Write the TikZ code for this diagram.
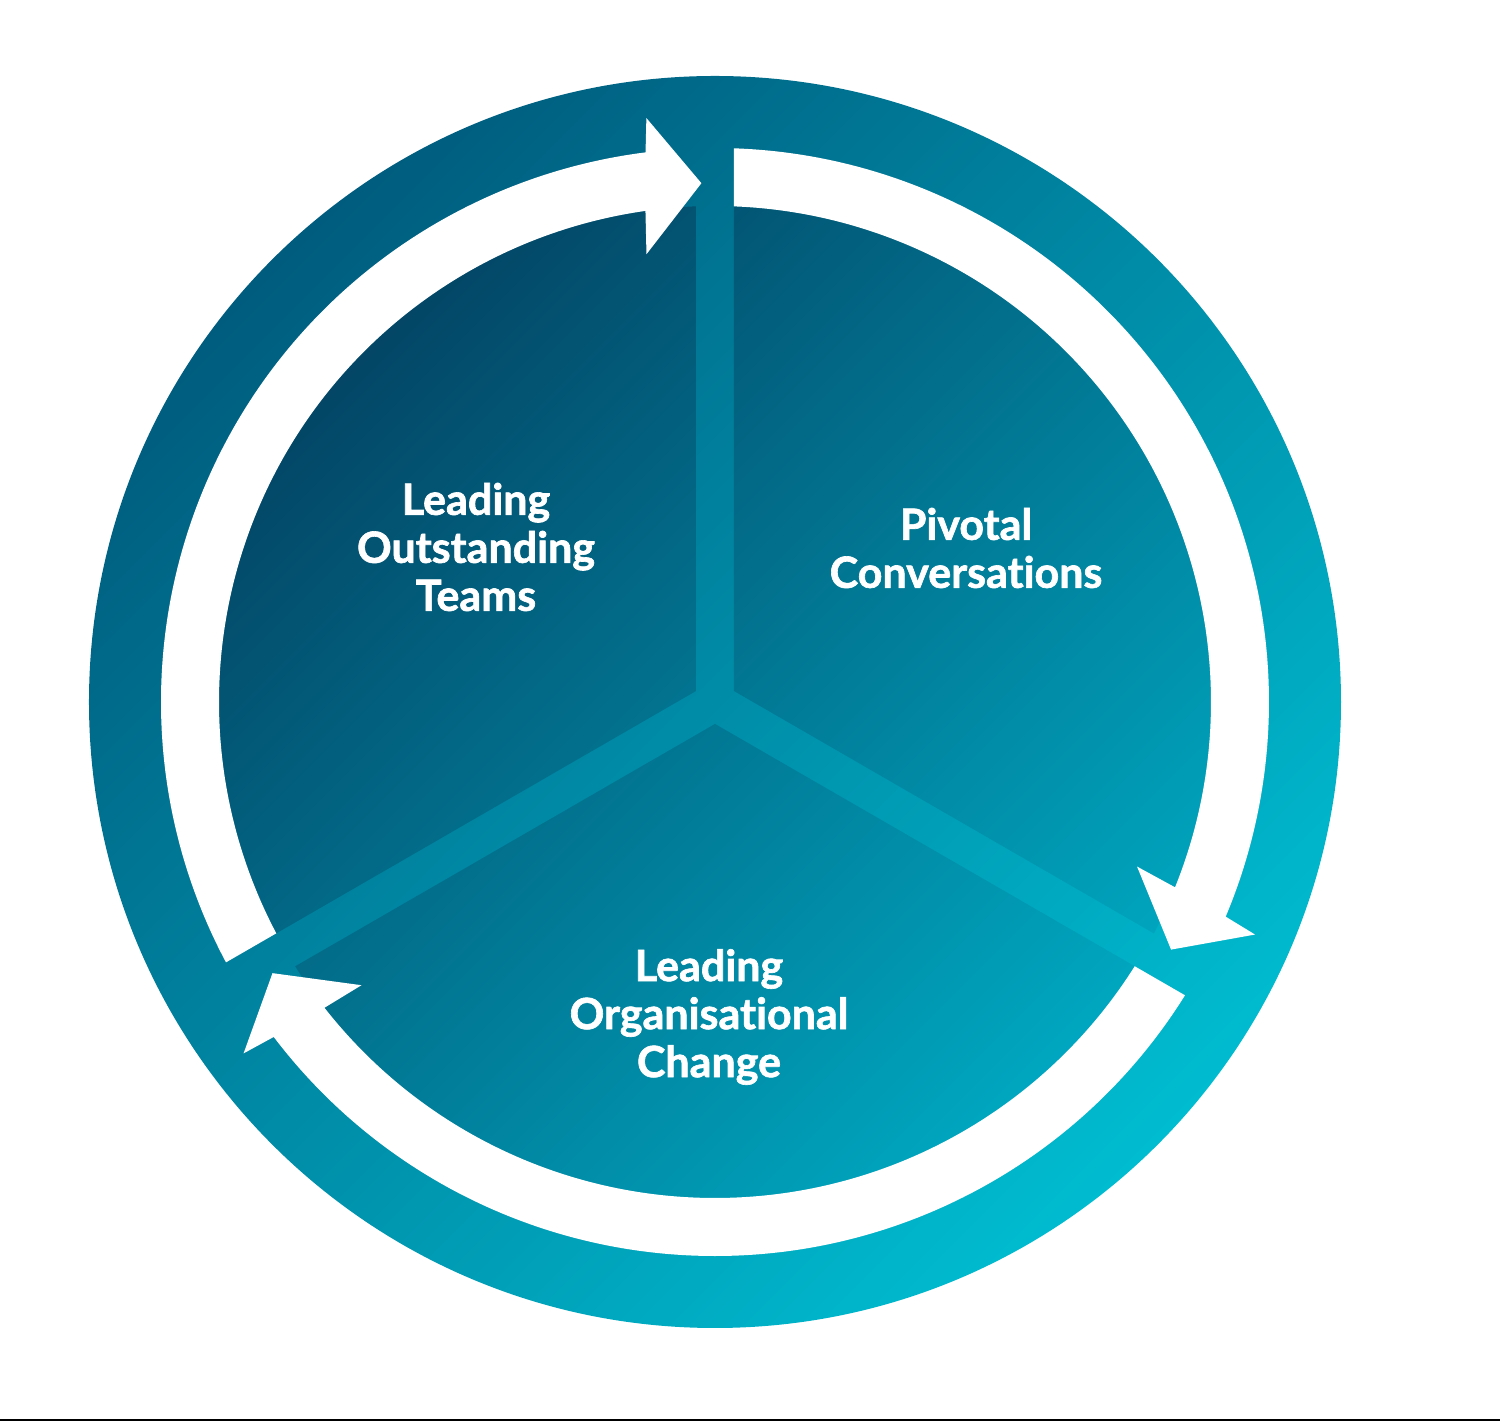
\documentclass[tikz,border=0pt]{standalone}
\usepackage{fontspec}
\setmainfont{Lato}[Ligatures=NoCommon, BoldFeatures={FakeBold=1.5}]
\definecolor{ringdark}{HTML}{005C7E}
\definecolor{ringlight}{HTML}{00BCD0}
\definecolor{secdark}{HTML}{034666}
\definecolor{seclight}{HTML}{00A6BF}
\tikzset{
  lbl/.style={text=white, font=\bfseries\fontsize{21.5}{24}\selectfont, align=center, inner sep=0pt},
  arrowfill/.style={fill=white},
  ringshade/.style={top color=ringdark, bottom color=ringlight, shading angle=45},
  secshade/.style={top color=secdark, bottom color=seclight, shading angle=45}
}
\begin{document}
\begin{tikzpicture}[x=0.5pt,y=0.5pt]
\useasboundingbox (-715,-720) rectangle (785,702);
\fill[white] (-715,-720) rectangle (785,702);
% outer ring / background disc
\shade[ringshade] (0,0) circle (626);
% three inner sectors
\foreach \a in {0,120,240}{
  \begin{scope}
    \clip[rotate=\a] (19,10.97) -- (19,1000) -- (1231.4,710.97) -- (885,-489) -- cycle;
    \shade[secshade] (0,0) circle (496);
  \end{scope}
}
% three curved arrows
\foreach \a in {0,120,240}{
  \fill[arrowfill, rotate=\a] (19,495.64) -- (19,553.67)
    arc[start angle=88.035, end angle=-22.8, radius=554]
    -- (-23.3:588) -- (-28.5:519) -- (-21.3:453) -- (-21.94:496)
    arc[start angle=-21.94, end angle=87.805, radius=496] -- cycle;
}
\node[lbl] (lot) at (-239,155) {Leading\\Outstanding\\Teams};
\node[lbl] (pc) at (251,154) {Pivotal\\Conversations};
\node[lbl] (loc) at (-6,-315) {Leading\\Organisational\\Change};
\draw[black, line width=1pt] (-715,-718) -- (785,-718);
\end{tikzpicture}
\end{document}
